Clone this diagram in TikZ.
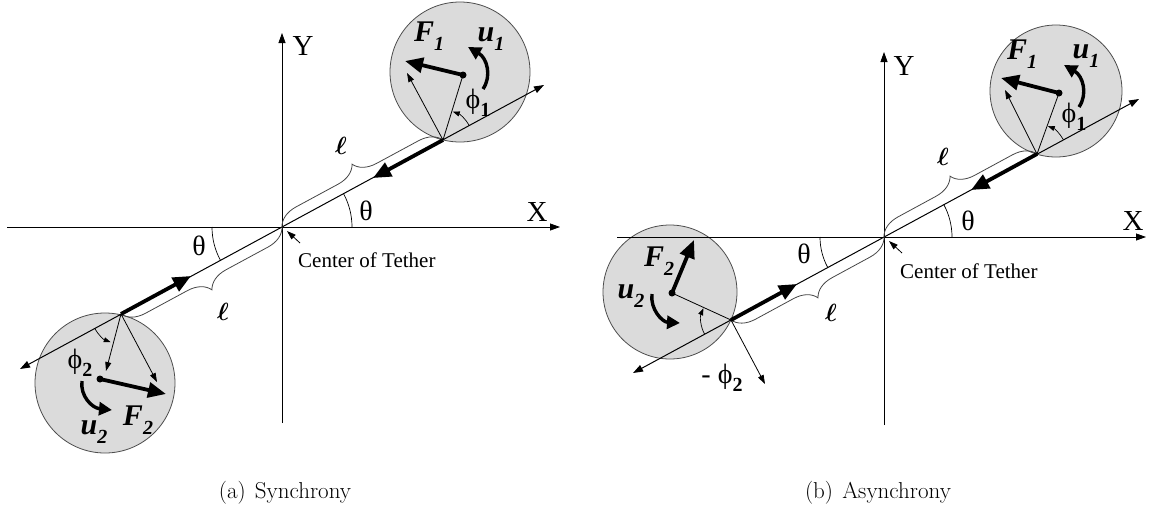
\documentclass[tikz,border=0pt]{standalone}
\usepackage{fontspec}
\newfontfamily\tnr{Liberation Serif}
\usetikzlibrary{arrows.meta,decorations.pathreplacing}
\newcommand{\lsz}[1]{\fontsize{#1}{#1}\selectfont}
\newcommand{\sbs}[1]{\raisebox{-0.28em}{\lsz{20}#1}}
\begin{document}
\begin{tikzpicture}[x=1pt,y=-1pt,
  axis/.style={line width=0.8pt,-{Triangle[length=10pt,width=7pt]}},
  tether/.style={line width=1pt,{Triangle[length=10pt,width=7pt]}-{Triangle[length=10pt,width=7pt]}},
  tarr/.style={line width=0.8pt,-{Triangle[length=9pt,width=6pt]}},
  tline/.style={line width=0.8pt},
  bigarr/.style={line width=3.8pt,-{Triangle[length=18pt,width=15pt]}},
  curvarr/.style={line width=3.4pt,-{Triangle[length=13pt,width=13pt]}},
  angarr/.style={line width=0.7pt,-{Triangle[length=7pt,width=5pt]}},
  angline/.style={line width=0.7pt},
  ball/.style={circle,draw=gray!60!black,fill=gray!28,line width=0.8pt,inner sep=0pt},
  dot/.style={circle,fill=black,inner sep=0pt,minimum size=7pt},
  brc/.style={draw=gray!55!black,line width=0.8pt,decorate,decoration={brace,amplitude=22pt,aspect=0.5}},
  lab/.style={inner sep=0pt,font=\tnr\lsz{29}},
  phlab/.style={inner sep=0pt,font=\tnr\lsz{28}},
  tlab/.style={inner sep=0pt,font=\tnr\lsz{28}},
  llab/.style={inner sep=0pt,font=\lsz{32}\boldmath},
  blab/.style={inner sep=0pt,font=\tnr\bfseries\itshape\lsz{30}},
  captext/.style={inner sep=0pt,font=\lsz{23}}
]
\useasboundingbox (0,0) rectangle (1153,509);

% ================= (a) Synchrony =================
\coordinate (O1) at (282,227);
\coordinate (A1) at (443,140);
\coordinate (A2) at (121,314);
\coordinate (TU1) at (544,85);
\coordinate (TL1) at (20,369);
\coordinate (XL1) at (7,227);
\coordinate (XR1) at (560,227);
\coordinate (YB1) at (282,423);
\coordinate (YT1) at (282,33);

\node[ball,minimum size=140pt] (c1) at (460,72) {};
\node[ball,minimum size=140pt] (c2) at (105,383) {};

\draw[axis] (XL1) -- (XR1);
\draw[axis] (YB1) -- (YT1);
\node[lab] (x1) at (537,212) {X};
\node[lab] (y1) at (303,46) {Y};

\draw[tether] (TL1) -- (TU1);

% theta arcs
\draw[angline] (O1) ++(0:70) arc[start angle=0,end angle=-28.5,radius=70];
\draw[angline] (O1) ++(180:70) arc[start angle=180,end angle=151.5,radius=70];
\node[tlab] (th1) at (366,211) {θ};
\node[tlab] (th2) at (199,246) {θ};

% braces
\draw[brc] (O1) -- (A1);
\draw[brc] (O1) -- (A2);
\node[llab] (l1) at (341,146) {$\ell$};
\node[llab] (l2) at (223,312) {$\ell$};

% tether forces
\coordinate (TF1) at (373,178);
\coordinate (TF2) at (191,276);
\draw[bigarr] (A1) -- (TF1);
\draw[bigarr] (A2) -- (TF2);

% upper ball
\node[dot] (d1) at (463,75) {};
\coordinate (F1t) at (405,61);
\coordinate (R1t) at (407,73);
\draw[tline] (A1) -- (d1.center);
\draw[tarr] (A1) -- (R1t);
\draw[bigarr] (d1.center) -- (F1t);
\draw[angarr] (A1) ++(-28.5:30) arc[start angle=-28.5,end angle=-71,radius=30];
\draw[curvarr] (483,89) .. controls (492,76) and (487,58) .. (468,47);
\node[blab] (f1) at (429,36) {F\sbs{1}};
\node[blab] (u1) at (491,39) {u\sbs{1}};
\node[phlab] (p1) at (478,103) {ϕ\sbs{\bfseries 1}};

% lower ball
\node[dot] (d2) at (100,379) {};
\coordinate (R2a) at (106,371);
\coordinate (R2b) at (157,382);
\coordinate (F2t) at (166,394);
\draw[tarr] (A2) -- (R2a);
\draw[tarr] (A2) -- (R2b);
\draw[bigarr] (d2.center) -- (F2t);
\draw[angarr] (A2) ++(151.5:30) arc[start angle=151.5,end angle=110,radius=30];
\draw[curvarr] (82,381) .. controls (80,396) and (92,408) .. (112,410);
\node[phlab] (p2) at (80,363) {ϕ\sbs{\bfseries 2}};
\node[blab] (u2) at (94,432) {u\sbs{2}};
\node[blab] (f2) at (138,420) {F\sbs{2}};

% center of tether
\node[inner sep=0pt,anchor=west,font=\tnr\lsz{21}] (ct1) at (298,260) {Center of Tether};
\coordinate (CT1) at (300,243);
\draw[tarr] (CT1) -- (287,231);

% ================= (b) Asynchrony =================
\coordinate (O2) at (884,237);
\coordinate (A3) at (1037,154);
\coordinate (A4) at (731,320);
\coordinate (TU2) at (1139,99);
\coordinate (TL2) at (633,373);
\coordinate (XL2) at (617,237);
\coordinate (XR2) at (1146,237);
\coordinate (YB2) at (884,425);
\coordinate (YT2) at (884,52);

\node[ball,minimum size=132pt] (c3) at (1056,91) {};
\node[ball,minimum size=134pt] (c4) at (670,292) {};

\draw[axis] (XL2) -- (XR2);
\draw[axis] (YB2) -- (YT2);
\node[lab] (x2) at (1133,221) {X};
\node[lab] (y2) at (904,66) {Y};

\draw[tether] (TL2) -- (TU2);

\draw[angline] (O2) ++(0:68) arc[start angle=0,end angle=-28.5,radius=68];
\draw[angline] (O2) ++(180:64) arc[start angle=180,end angle=151.5,radius=64];
\node[tlab] (th3) at (968,221) {θ};
\node[tlab] (th4) at (804,254) {θ};

\draw[brc] (O2) -- (A3);
\draw[brc] (O2) -- (A4);
\node[llab] (l3) at (943,157) {$\ell$};
\node[llab] (l4) at (831,313) {$\ell$};

\coordinate (TF3) at (971,190);
\coordinate (TF4) at (797,284);
\draw[bigarr] (A3) -- (TF3);
\draw[bigarr] (A4) -- (TF4);

% upper ball
\node[dot] (d3) at (1059,93) {};
\coordinate (F3t) at (1001,78);
\coordinate (R3t) at (1005,90);
\draw[tline] (A3) -- (d3.center);
\draw[tarr] (A3) -- (R3t);
\draw[bigarr] (d3.center) -- (F3t);
\draw[angarr] (A3) ++(-28.5:30) arc[start angle=-28.5,end angle=-69,radius=30];
\draw[curvarr] (1079,107) .. controls (1088,94) and (1083,76) .. (1064,65);
\node[blab] (f3) at (1022,54) {F\sbs{1}};
\node[blab] (u3) at (1086,56) {u\sbs{1}};
\node[phlab] (p3) at (1074,117) {ϕ\sbs{\bfseries 1}};

% lower ball
\node[dot] (d4) at (672,293) {};
\coordinate (F4t) at (694,240);
\coordinate (N4t) at (765,384);
\draw[tline] (A4) -- (d4.center);
\draw[bigarr] (d4.center) -- (F4t);
\draw[tarr] (A4) -- (N4t);
\draw[angarr] (A4) ++(151.5:30) arc[start angle=151.5,end angle=203,radius=30];
\draw[curvarr] (652,294) .. controls (650,309) and (662,322) .. (680,323);
\node[blab] (f4) at (659,261) {F\sbs{2}};
\node[blab] (u4) at (631,296) {u\sbs{2}};
\node[phlab] (p4) at (722,378) {- ϕ\sbs{\bfseries 2}};

\node[inner sep=0pt,anchor=west,font=\tnr\lsz{21}] (ct2) at (900,271) {Center of Tether};
\coordinate (CT2) at (902,253);
\draw[tarr] (CT2) -- (889,241);

% captions
\node[captext] (capa) at (285,493) {(a)\hspace{0.4em}Synchrony};
\node[captext] (capb) at (878,493) {(b)\hspace{0.4em}Asynchrony};
\end{tikzpicture}
\end{document}
